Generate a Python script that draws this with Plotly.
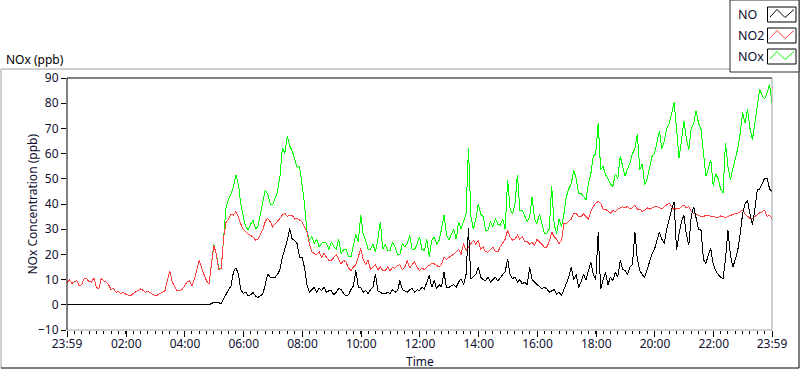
import plotly.graph_objects as go
import pandas as pd

# ---------------- data (5-minute samples, 23:59 -> 23:59; one row per hour) ----------------
START = "2000-01-01 23:59"
STEP = "5min"

NO = [
    0, 0, 0, 0, 0, 0, 0, 0, 0, 0, 0, 0,
    0, 0, 0, 0, 0, 0, 0, 0, 0, 0, 0, 0,
    0, 0, 0, 0, 0, 0, 0, 0, 0, 0, 0, 0,
    0, 0, 0, 0, 0, 0, 0, 0, 0, 0, 0, 0,
    0, 0, 0, 0, 0, 0, 0, 0, 0, 0, 0, 0.5,
    1.0, 0.8, 0.8, 0.5, 2.5, 4.3, 6.0, 7.5, 13.0, 14.7, 12.3, 6.0,
    4.5, 5.0, 3.6, 4.0, 4.9, 3.5, 2.9, 3.6, 4.3, 8.0, 12.3, 11.0,
    11.0, 10.9, 12.0, 14.0, 18.9, 22.0, 25.6, 30.3, 26.0, 25.6, 24.3, 18.9,
    18.9, 14.9, 8.0, 5.0, 6.0, 6.9, 5.0, 6.5, 5.6, 7.0, 4.9, 5.6,
    5.5, 4.0, 4.9, 6.5, 6.0, 4.5, 3.6, 4.0, 6.0, 7.5, 13.6, 7.0,
    6.9, 5.0, 5.6, 4.5, 6.0, 7.0, 12.3, 5.5, 5.0, 4.3, 4.3, 5.0,
    4.5, 6.0, 5.0, 5.5, 9.6, 6.0, 5.5, 5.0, 6.0, 6.5, 5.0, 6.0,
    5.5, 7.0, 6.3, 9.0, 11.6, 7.0, 9.6, 6.3, 8.0, 7.0, 12.9, 7.0,
    6.9, 7.5, 8.0, 7.0, 9.0, 10.3, 8.0, 12.0, 30.3, 10.3, 11.0, 12.0,
    14.9, 11.0, 10.0, 9.6, 11.0, 9.0, 10.0, 10.9, 9.5, 10.9, 12.0, 13.0,
    18.3, 12.0, 10.3, 11.0, 9.0, 10.0, 8.3, 9.0, 8.0, 14.9, 10.0, 9.0,
    8.0, 7.0, 6.3, 7.0, 6.3, 5.0, 5.5, 6.0, 4.3, 5.0, 3.6, 6.0,
    8.9, 11.0, 14.9, 10.0, 12.0, 6.9, 9.0, 12.0, 10.0, 14.0, 16.9, 12.0,
    10.0, 28.9, 6.3, 10.0, 12.9, 8.0, 11.0, 9.6, 13.0, 11.0, 17.6, 14.0,
    13.6, 12.0, 14.9, 16.0, 28.9, 18.0, 13.6, 12.0, 10.9, 14.0, 17.0, 20.3,
    22.0, 25.0, 28.9, 26.0, 24.3, 30.0, 34.3, 38.0, 40.9, 21.6, 28.0, 33.0,
    35.6, 28.0, 23.6, 35.0, 38.9, 34.0, 30.0, 29.6, 18.0, 16.3, 20.0, 22.3,
    16.0, 13.6, 12.0, 11.0, 10.3, 18.0, 29.6, 20.0, 14.9, 18.0, 21.6, 28.0,
    36.3, 40.0, 41.6, 36.0, 31.6, 38.0, 45.6, 46.0, 48.3, 50.3, 50.3, 46.0,
    44.9,
]

NO2 = [
    8.9, 9.8, 8.5, 9.2, 9.5, 7.5, 8.0, 10.5, 10.3, 9.2, 9.0, 10.6,
    7.0, 6.3, 10.5, 9.5, 9.0, 8.0, 6.0, 6.5, 5.0, 5.2, 4.5, 5.0,
    4.2, 3.8, 3.6, 4.5, 5.0, 5.5, 6.3, 5.8, 5.0, 5.4, 4.8, 4.0,
    3.6, 3.9, 4.3, 5.0, 5.5, 9.0, 13.5, 9.0, 7.0, 5.5, 5.6, 6.0,
    7.5, 9.0, 9.6, 7.5, 10.0, 14.0, 17.6, 14.5, 12.0, 9.5, 8.3, 16.0,
    23.6, 20.0, 14.0, 14.3, 26.9, 32.9, 34.0, 36.0, 35.6, 37.0, 35.0, 32.0,
    30.0, 29.0, 28.0, 27.5, 27.0, 25.6, 26.0, 28.0, 30.0, 33.0, 34.3, 33.0,
    31.0, 32.0, 33.0, 34.3, 35.6, 36.3, 35.0, 35.6, 35.6, 34.0, 34.3, 33.6,
    33.0, 31.0, 29.0, 24.3, 21.0, 20.3, 20.0, 21.0, 19.0, 20.3, 19.0, 17.6,
    17.6, 19.0, 20.0, 18.0, 16.3, 17.6, 17.0, 14.5, 13.6, 15.0, 16.0, 19.0,
    22.3, 18.0, 16.0, 17.6, 14.0, 15.0, 16.0, 14.0, 15.0, 13.6, 13.6, 15.0,
    13.6, 14.9, 14.5, 15.6, 16.0, 14.0, 15.0, 17.6, 14.5, 16.0, 17.0, 15.0,
    13.6, 14.5, 14.0, 15.0, 15.5, 16.3, 16.3, 15.5, 15.0, 16.0, 18.9, 18.0,
    18.9, 19.5, 20.0, 21.0, 22.0, 20.0, 24.3, 21.6, 23.0, 24.0, 25.6, 24.0,
    25.6, 22.0, 23.0, 21.0, 20.9, 22.0, 22.9, 21.0, 21.0, 23.0, 24.3, 26.0,
    29.6, 27.0, 25.6, 26.0, 27.6, 26.0, 27.0, 25.0, 25.0, 24.0, 24.9, 23.5,
    26.0, 25.0, 24.0, 22.9, 22.9, 25.0, 28.9, 27.0, 26.0, 24.3, 25.6, 32.3,
    32.3, 33.0, 34.0, 36.3, 36.3, 35.0, 35.0, 36.0, 35.0, 34.0, 37.0, 39.0,
    40.3, 41.0, 40.3, 38.0, 38.0, 37.0, 36.3, 37.5, 37.0, 38.0, 38.3, 38.9,
    38.5, 39.0, 38.0, 38.5, 39.6, 38.0, 38.0, 37.0, 37.6, 38.5, 38.0, 38.5,
    38.9, 39.0, 38.5, 38.0, 39.0, 39.6, 40.3, 39.0, 37.6, 38.3, 38.0, 39.0,
    39.6, 38.5, 39.0, 37.0, 36.3, 36.0, 35.5, 35.0, 35.0, 35.6, 35.5, 35.0,
    35.0, 34.6, 34.5, 35.3, 35.0, 34.6, 35.0, 35.5, 36.0, 36.3, 36.3, 37.0,
    37.6, 36.0, 35.0, 34.3, 34.3, 35.0, 36.0, 36.5, 36.9, 37.6, 35.0, 35.5,
    34.3,
]

NOX = [
    8.9, 9.8, 8.5, 9.2, 9.5, 7.5, 8.0, 10.5, 10.3, 9.2, 9.0, 10.6,
    7.0, 6.3, 10.5, 9.5, 9.0, 8.0, 6.0, 6.5, 5.0, 5.2, 4.5, 5.0,
    4.2, 3.8, 3.6, 4.5, 5.0, 5.5, 6.3, 5.8, 5.0, 5.4, 4.8, 4.0,
    3.6, 3.9, 4.3, 5.0, 5.5, 9.0, 13.5, 9.0, 7.0, 5.5, 5.6, 6.0,
    7.5, 9.0, 9.6, 7.5, 10.0, 14.0, 17.6, 14.5, 12.0, 9.5, 8.3, 16.0,
    24.0, 20.0, 14.5, 14.5, 28.0, 38.9, 42.0, 44.0, 47.0, 51.6, 48.0, 40.0,
    35.0, 31.0, 29.6, 32.0, 33.6, 30.0, 31.0, 36.0, 42.0, 45.6, 44.0, 40.0,
    39.6, 42.0, 45.0, 51.0, 62.3, 60.0, 66.9, 63.0, 61.0, 58.0, 54.4, 55.0,
    47.0, 40.3, 29.6, 25.6, 27.0, 24.3, 26.0, 23.0, 24.3, 25.0, 24.3, 22.0,
    25.0, 23.0, 22.0, 26.0, 20.3, 22.0, 22.0, 19.0, 19.0, 24.0, 28.0, 25.0,
    35.6, 28.0, 25.6, 22.0, 22.0, 24.0, 21.0, 26.0, 33.0, 22.0, 24.0, 21.6,
    21.6, 25.0, 23.0, 20.0, 20.0, 24.3, 23.0, 24.3, 27.6, 22.0, 22.0, 24.0,
    27.0, 22.0, 21.6, 26.0, 19.0, 25.6, 27.0, 24.0, 25.6, 30.0, 35.6, 28.0,
    25.6, 28.0, 30.0, 26.0, 33.0, 30.0, 33.0, 36.0, 62.3, 35.0, 30.0, 34.0,
    40.0, 36.0, 35.0, 29.6, 29.6, 33.0, 31.0, 34.3, 32.0, 31.6, 34.0, 30.0,
    49.6, 38.0, 36.0, 40.0, 51.6, 37.6, 37.6, 35.0, 33.0, 35.0, 42.9, 34.0,
    32.3, 36.0, 32.3, 28.3, 28.3, 30.0, 47.0, 32.0, 28.3, 34.0, 31.0, 36.0,
    43.0, 46.0, 48.0, 53.6, 50.0, 44.0, 44.3, 42.9, 41.6, 48.0, 52.0, 58.9,
    60.0, 72.3, 53.6, 55.0, 51.6, 50.0, 48.0, 47.0, 52.0, 50.0, 58.9, 55.0,
    51.0, 54.0, 56.3, 60.0, 62.0, 67.6, 53.6, 56.0, 47.6, 50.0, 54.0, 58.9,
    60.0, 64.0, 69.0, 62.0, 65.0, 70.0, 72.0, 76.0, 80.3, 70.0, 58.3, 65.0,
    72.9, 66.0, 61.6, 70.0, 72.0, 77.0, 72.0, 69.6, 60.0, 51.0, 54.0, 57.6,
    47.0, 52.0, 50.0, 46.0, 44.3, 64.3, 55.0, 49.6, 54.0, 57.6, 62.0, 68.0,
    76.3, 72.0, 77.6, 70.0, 65.6, 72.0, 78.0, 85.6, 83.0, 81.6, 84.0, 87.6,
    80.3,
]

TICK_TIMES = ["2000-01-01 23:59", "2000-01-02 02:00", "2000-01-02 04:00",
              "2000-01-02 06:00", "2000-01-02 08:00", "2000-01-02 10:00",
              "2000-01-02 12:00", "2000-01-02 14:00", "2000-01-02 16:00",
              "2000-01-02 18:00", "2000-01-02 20:00", "2000-01-02 22:00",
              "2000-01-02 23:59"]
TICK_LABELS = ["23:59", "02:00", "04:00", "06:00", "08:00", "10:00", "12:00",
               "14:00", "16:00", "18:00", "20:00", "22:00", "23:59"]

SERIES_NAMES = ["NO", "NO2", "NOx"]
SERIES_COLORS = ["#000000", "#ff4040", "#00ff00"]

times = pd.date_range(START, periods=len(NO), freq=STEP)

# ---------------- figure ----------------
W, H = 800, 369
L, R, T, B = 67, 28, 78, 39
PW, PH = W - L - R, H - T - B

def xp(px):
    return (px - L) / PW

def yp(py):
    return (H - B - py) / PH

FONT = "Noto Sans"
TXT = "#101030"

fig = go.Figure()
for name, vals, col in [("NOx", NOX, SERIES_COLORS[2]),
                        ("NO2", NO2, SERIES_COLORS[1]),
                        ("NO", NO, SERIES_COLORS[0])]:
    fig.add_trace(go.Scatter(x=times, y=vals, mode="lines", name=name,
                             line=dict(color=col, width=1), showlegend=False,
                             hoverinfo="skip"))

shapes = []
def line(x0, y0, x1, y1, color, width=1):
    shapes.append(dict(type="line", xref="paper", yref="paper",
                       x0=xp(x0), y0=yp(y0), x1=xp(x1), y1=yp(y1),
                       line=dict(color=color, width=width), layer="above"))

# outer frame
line(1, 69, 730, 69, "#a0a0a0")
line(1, 69, 1, 368, "#a0a0a0")
line(1, 368, 799, 368, "#000000")
line(799, 0, 799, 368, "#000000")
# plot frame
line(67, 78, 772, 78, "#000000")
line(67, 78, 67, 330, "#000000")
line(772, 78, 772, 330, "#a0a0a0")
line(67, 330, 772, 330, "#a0a0a0")

# legend box
shapes.append(dict(type="rect", xref="paper", yref="paper",
                   x0=xp(730), y0=yp(72), x1=xp(799), y1=yp(0),
                   fillcolor="white", line=dict(color="#303030", width=1),
                   layer="above"))
annotations = []
box_tops = [7, 28, 49]
for name, col, top in zip(SERIES_NAMES, SERIES_COLORS, box_tops):
    shapes.append(dict(type="rect", xref="paper", yref="paper",
                       x0=xp(767.5), y0=yp(top + 15), x1=xp(796), y1=yp(top),
                       fillcolor="white", line=dict(color="#000000", width=1),
                       layer="above"))
    pts = [(770, top + 10), (777, top + 2.5), (785, top + 10.5), (794, top + 2.5)]
    path = "M " + " L ".join(f"{xp(a)},{yp(b)}" for a, b in pts)
    shapes.append(dict(type="path", xref="paper", yref="paper", path=path,
                       line=dict(color=col, width=1), layer="above"))
    annotations.append(dict(text=name, xref="paper", yref="paper",
                            x=xp(736), y=yp(top + 7.5), xanchor="left",
                            yanchor="middle", showarrow=False,
                            font=dict(family=FONT, size=12.5, color=TXT)))

annotations.append(dict(text="NOx (ppb)", xref="paper", yref="paper",
                        x=xp(4), y=yp(59), xanchor="left", yanchor="middle",
                        showarrow=False, font=dict(family=FONT, size=12, color="#000000")))
annotations.append(dict(text="NOx Concentration (ppb)", xref="paper", yref="paper",
                        x=xp(31.5), y=yp(204), xanchor="center", yanchor="middle",
                        textangle=-90, showarrow=False,
                        font=dict(family=FONT, size=12, color=TXT)))
annotations.append(dict(text="Time", xref="paper", yref="paper",
                        x=xp(419.5), y=yp(361.5), xanchor="center", yanchor="middle",
                        showarrow=False, font=dict(family=FONT, size=12, color=TXT)))

fig.update_layout(
    width=W, height=H, autosize=False,
    margin=dict(l=L, r=R, t=T, b=B, pad=0),
    paper_bgcolor="white", plot_bgcolor="white",
    shapes=shapes, annotations=annotations,
    xaxis=dict(type="date", range=[times[0], times[-1]],
               tickmode="array", tickvals=TICK_TIMES, ticktext=TICK_LABELS,
               ticks="outside", ticklen=6, tickwidth=1, tickcolor="#000000",
               ticklabelstandoff=-3,
               showgrid=False, zeroline=False, showline=False,
               tickfont=dict(family=FONT, size=12, color=TXT),
               minor=dict(ticks="outside", ticklen=3, tickwidth=1,
                          tickcolor="#000000", dtick=15 * 60 * 1000,
                          tick0=START, showgrid=False)),
    yaxis=dict(range=[-10, 90], dtick=10, tick0=0,
               ticks="outside", ticklen=5, tickwidth=1, tickcolor="#000000",
               showgrid=False, zeroline=False, showline=False,
               tickfont=dict(family=FONT, size=12, color=TXT)),
)

POST_JS = (
    "document.body.style.margin='0px';"
    "document.body.style.overflow='hidden';"
    "document.querySelectorAll('.scatterlayer path.js-line')"
    ".forEach(function(p){p.style.shapeRendering='crispEdges';});"
)

fig.write_html("out.html", config={"displayModeBar": False}, post_script=POST_JS)
